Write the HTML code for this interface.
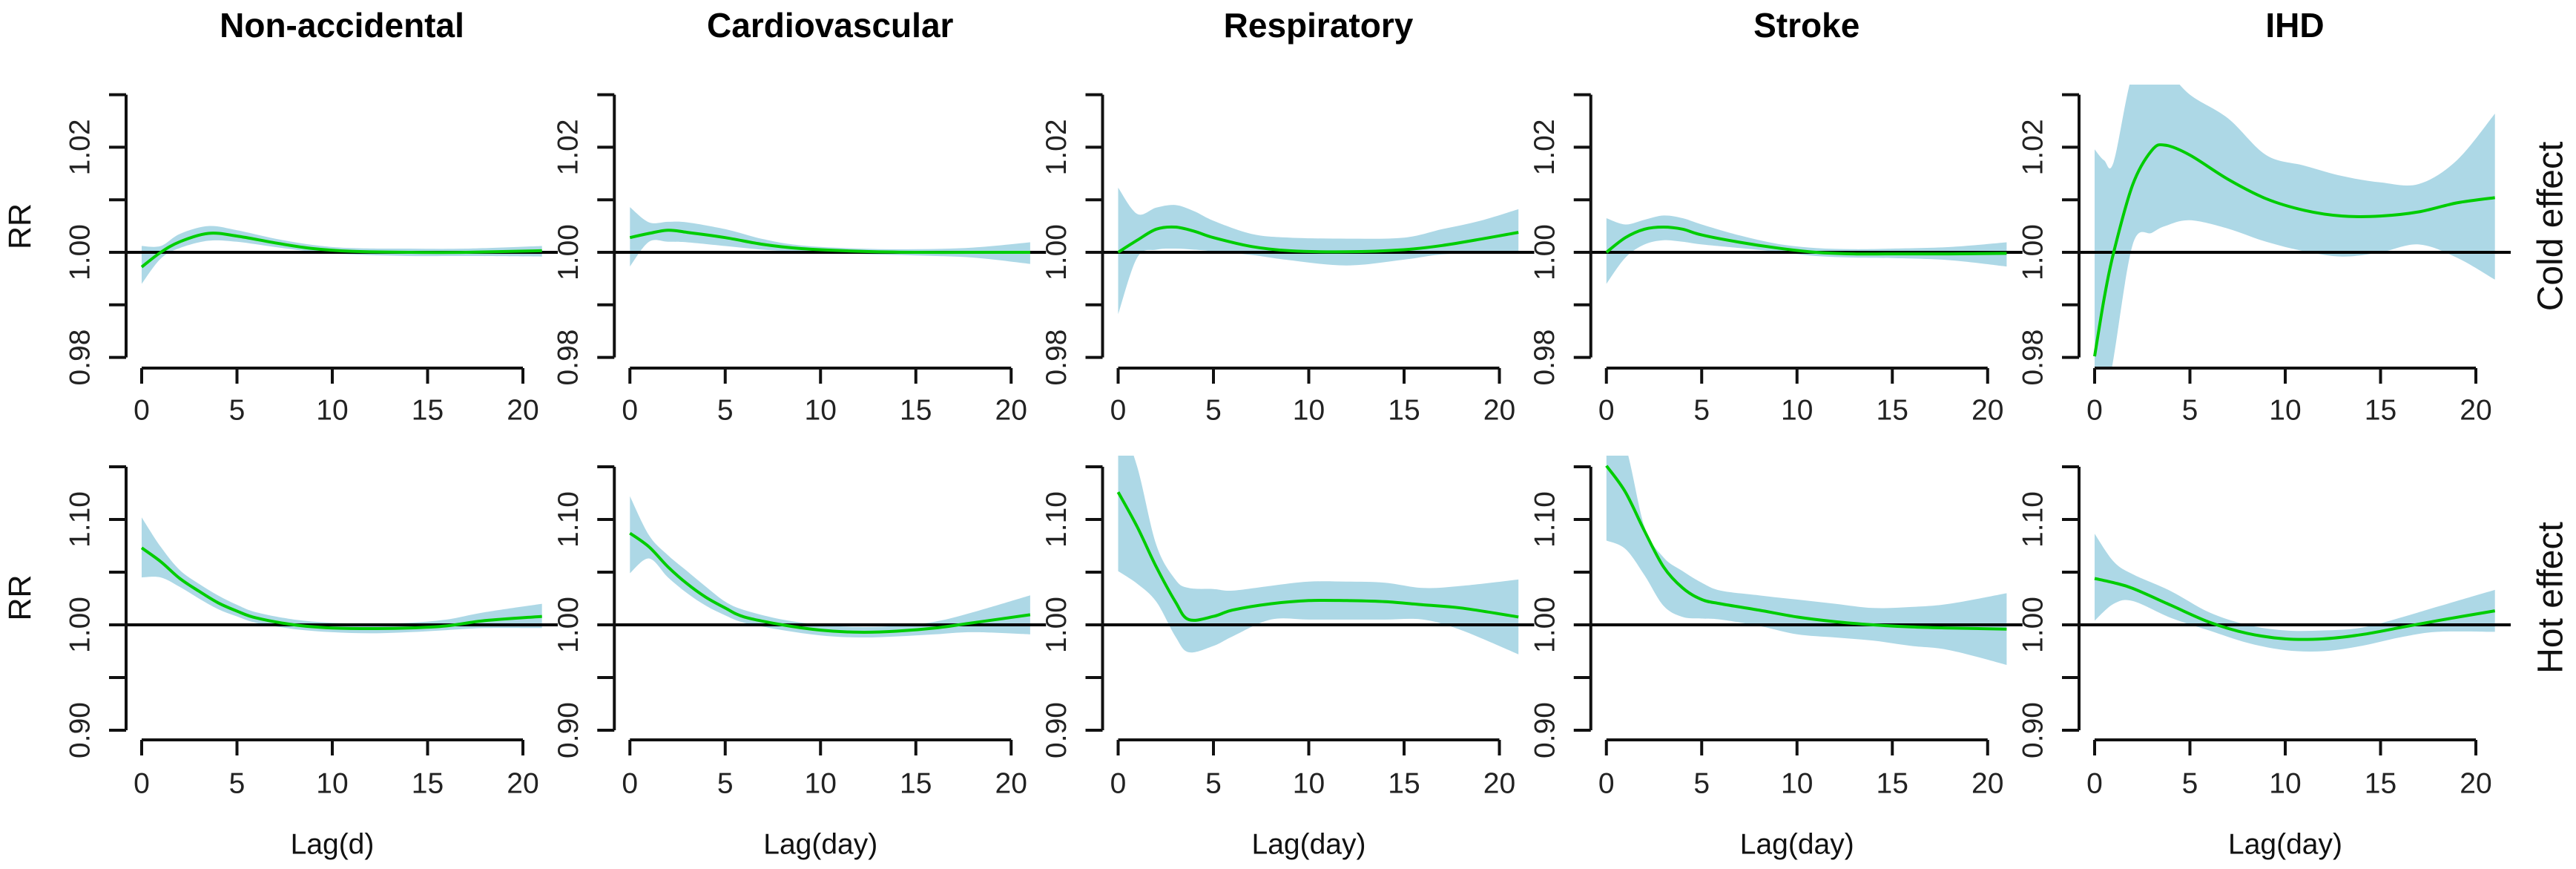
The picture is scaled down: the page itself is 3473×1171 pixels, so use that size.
<!DOCTYPE html>
<html><head><meta charset="utf-8">
<style>
html,body{margin:0;padding:0;background:#fff;}
svg{display:block;font-family:"Liberation Sans",Arial,sans-serif;}
</style></head>
<body>
<svg id="chart" width="3473" height="1171" viewBox="0 0 3473 1171" xmlns="http://www.w3.org/2000/svg"></svg>
<script>
const causes = ["Non-accidental","Cardiovascular","Respiratory","Stroke","IHD"];
const xLabels = ["Lag(d)","Lag(day)","Lag(day)","Lag(day)","Lag(day)"];
const xTicks = [0,5,10,15,20];
const coldTicks = [0.98,0.99,1.00,1.01,1.02,1.03];
const coldTickLabels = ["0.98","","1.00","","1.02",""];
const hotTicks = [0.90,0.95,1.00,1.05,1.10,1.15];
const hotTickLabels = ["0.90","","1.00","","1.10",""];

// Cold effect (RR - 1) per cause
const coldLags = [
 [0,1,2,3.5,5,7,9,11,14,17,21],
 [0,1,2,3,5,7,9,12,15,18,21],
 [0,1,2,3,4,5,7,9,12,15,17,19,21],
 [0,1,2,3,4,5,7,9,11,13,15,18,21],
 [0,0.5,1,2,3,3.7,5,7,9,11,13,15,17,19,21]
];
const coldFit = [
 [-0.0028,0.0,0.002,0.0036,0.0031,0.0018,0.0007,0.0002,0.0,0.0,0.0003],
 [0.0028,0.0036,0.0042,0.0038,0.0028,0.0015,0.0007,0.0002,0.0,0.0,0.0],
 [0.0,0.0023,0.0044,0.0048,0.004,0.0028,0.0011,0.0003,0.0001,0.0005,0.0013,0.0025,0.0038],
 [0.0,0.0028,0.0044,0.0048,0.0044,0.0033,0.0019,0.0008,0.0,-0.0003,-0.0003,-0.0003,-0.0002],
 [-0.0198,-0.0088,0.0,0.0129,0.0194,0.0204,0.0185,0.0139,0.0102,0.008,0.0069,0.0069,0.0077,0.0094,0.0104]
];
const coldHi = [
 [0.0012,0.0012,0.0035,0.005,0.0042,0.0026,0.0014,0.0008,0.0007,0.0007,0.0012],
 [0.0086,0.0057,0.0058,0.0057,0.0044,0.0025,0.0013,0.0007,0.0006,0.0009,0.0019],
 [0.0123,0.0073,0.0085,0.009,0.0078,0.006,0.0035,0.0028,0.0026,0.0028,0.0044,0.006,0.0082],
 [0.0065,0.0053,0.0062,0.007,0.0065,0.0053,0.0032,0.0016,0.0008,0.0006,0.0007,0.001,0.0019],
 [0.0196,0.0175,0.0172,0.034,0.036,0.035,0.03,0.0255,0.0185,0.0165,0.0145,0.0133,0.013,0.0175,0.0264]
];
const coldLo = [
 [-0.006,-0.0012,0.0008,0.0022,0.002,0.001,0.0001,-0.0004,-0.0007,-0.0007,-0.0008],
 [-0.0027,0.002,0.002,0.0019,0.0012,0.0005,0.0001,-0.0003,-0.0006,-0.001,-0.0022],
 [-0.0118,-0.001,0.0005,0.0007,0.0005,0.0002,-0.0005,-0.0015,-0.0025,-0.0014,-0.0004,-0.0002,0.0],
 [-0.006,-0.001,0.0015,0.0023,0.002,0.0015,0.0008,0.0001,-0.0007,-0.001,-0.0011,-0.0015,-0.0027],
 [-0.035,-0.03,-0.02,0.0015,0.0037,0.005,0.0061,0.0045,0.002,0.0002,-0.0008,0.0,0.0015,-0.001,-0.0052]
];

// Hot effect (RR - 1) per cause
const hotLags = [
 [0,1,2,3,4,5,6,8,10,12,14,16,18,21],
 [0,1,2,3,4,5,6,8,10,12,14,16,18,21],
 [0,1,2,3,3.7,5,6,8,10,12,14,16,18,21],
 [0,1,2,3,4,5,6,8,10,12,14,16,18,21],
 [0,1,2,4,6,8,10,12,14,16,18,21]
];
const hotFit = [
 [0.073,0.06,0.044,0.032,0.021,0.013,0.0066,0.0,-0.003,-0.0035,-0.003,-0.001,0.004,0.008],
 [0.087,0.074,0.055,0.039,0.026,0.016,0.0075,0.0,-0.005,-0.007,-0.006,-0.003,0.002,0.0096],
 [0.126,0.093,0.055,0.022,0.005,0.008,0.014,0.02,0.023,0.023,0.022,0.019,0.016,0.0075],
 [0.151,0.126,0.089,0.055,0.035,0.024,0.02,0.014,0.0075,0.003,0.0,-0.002,-0.003,-0.004],
 [0.044,0.04,0.0346,0.0186,0.0027,-0.008,-0.0133,-0.0133,-0.0093,-0.0027,0.004,0.0133]
];
const hotHi = [
 [0.102,0.074,0.052,0.039,0.028,0.019,0.012,0.005,0.002,0.0015,0.002,0.005,0.012,0.02],
 [0.122,0.085,0.066,0.051,0.036,0.022,0.014,0.005,0.0,-0.002,-0.001,0.003,0.012,0.028],
 [0.2,0.15,0.076,0.043,0.035,0.034,0.0325,0.037,0.041,0.041,0.04,0.035,0.037,0.043],
 [0.2,0.17,0.093,0.064,0.051,0.04,0.0325,0.028,0.024,0.02,0.016,0.017,0.02,0.03],
 [0.0864,0.06,0.048,0.032,0.012,0.0,-0.0053,-0.0053,-0.0027,0.0066,0.0173,0.0332]
];
const hotLo = [
 [0.045,0.045,0.036,0.025,0.015,0.008,0.002,-0.004,-0.007,-0.008,-0.007,-0.005,-0.003,-0.003],
 [0.049,0.063,0.045,0.03,0.018,0.009,0.002,-0.005,-0.01,-0.012,-0.011,-0.009,-0.007,-0.009],
 [0.051,0.039,0.022,-0.011,-0.026,-0.02,-0.011,0.005,0.005,0.005,0.005,0.005,-0.005,-0.028],
 [0.08,0.072,0.047,0.018,0.0075,0.006,0.005,-0.001,-0.009,-0.012,-0.015,-0.02,-0.024,-0.038],
 [0.004,0.02,0.0226,0.0066,-0.0053,-0.017,-0.024,-0.025,-0.02,-0.012,-0.0066,-0.0066]
];

const svg = document.getElementById('chart');
const NS = 'http://www.w3.org/2000/svg';
function mk(tag, attrs, parent){
  const e = document.createElementNS(NS, tag);
  for (const k in attrs) e.setAttribute(k, attrs[k]);
  (parent||svg).appendChild(e);
  return e;
}
function smoothPath(pts){
  let d = 'M' + pts[0][0].toFixed(1) + ',' + pts[0][1].toFixed(1);
  for (let i = 0; i < pts.length - 1; i++){
    const p0 = pts[i-1] || pts[i], p1 = pts[i], p2 = pts[i+1], p3 = pts[i+2] || p2;
    const c1x = p1[0] + (p2[0]-p0[0])/6, c1y = p1[1] + (p2[1]-p0[1])/6;
    const c2x = p2[0] - (p3[0]-p1[0])/6, c2y = p2[1] - (p3[1]-p1[1])/6;
    d += ' C' + c1x.toFixed(1)+','+c1y.toFixed(1)+' '+c2x.toFixed(1)+','+c2y.toFixed(1)+' '+p2[0].toFixed(1)+','+p2[1].toFixed(1);
  }
  return d;
}
function curveCmds(pts){ return smoothPath(pts).replace(/^M[^C]*/, ''); }

const PX_PER_LAG = 25.7;
const rows = [
  {key:'cold', zeroY:340, perUnit:7080, top:114, bottom:496, ticks:coldTicks, labels:coldTickLabels,
   lags:coldLags, fit:coldFit, hi:coldHi, lo:coldLo, side:'Cold effect', tickLabelY:553},
  {key:'hot', zeroY:842, perUnit:1420, top:614, bottom:997, ticks:hotTicks, labels:hotTickLabels,
   lags:hotLags, fit:hotFit, hi:hotHi, lo:hotLo, side:'Hot effect', tickLabelY:1056}
];

const defs = mk('defs', {});
causes.forEach((cause, c) => {
  const X0 = 191 + 658.25*c;
  const xs = lag => X0 + lag*PX_PER_LAG;
  const axisX = X0 - 21;
  const rightX = X0 + 561;

  const title = mk('text', {x: X0+270, y: 50, 'text-anchor':'middle', 'font-size':46, 'font-weight':'bold', fill:'#000'});
  title.textContent = cause;
  
  

  rows.forEach((r, ri) => {
    const ys = v => r.zeroY - v*r.perUnit;     // v = RR - 1
    const g = mk('g', {});
    
    

    const clipId = 'clip' + c + '_' + ri;
    const cp = mk('clipPath', {id: clipId}, defs);
    mk('rect', {x: axisX, y: r.top, width: rightX-axisX, height: r.bottom-r.top}, cp);

    // ribbon
    const L = r.lags[c];
    const hiPts = L.map((l,i) => [xs(l), ys(r.hi[c][i])]);
    const loPts = L.map((l,i) => [xs(l), ys(r.lo[c][i])]).reverse();
    const d = smoothPath(hiPts) + ' L' + loPts[0][0].toFixed(1)+','+loPts[0][1].toFixed(1) + curveCmds(loPts) + ' Z';
    const rib = mk('path', {d: d, fill:'#add8e6', stroke:'none', 'clip-path':'url(#'+clipId+')'}, g);
    
    

    // reference line at RR=1
    const ref = mk('line', {x1: axisX, x2: rightX, y1: ys(0), y2: ys(0), stroke:'#000', 'stroke-width':4}, g);
    
    

    // fitted curve
    const fitPts = L.map((l,i) => [xs(l), ys(r.fit[c][i])]);
    const fl = mk('path', {d: smoothPath(fitPts), fill:'none', stroke:'#00cc00', 'stroke-width':4, 'clip-path':'url(#'+clipId+')'}, g);
    
    

    // y axis
    const yTop = ys(r.ticks[r.ticks.length-1]-1), yBot = ys(r.ticks[0]-1);
    const ya = mk('line', {x1: axisX, x2: axisX, y1: yBot, y2: yTop, stroke:'#111', 'stroke-width':4}, g);
    
    
    r.ticks.forEach((t, ti) => {
      const y = ys(t-1);
      mk('line', {x1: axisX-23, x2: axisX, y1: y, y2: y, stroke:'#111', 'stroke-width':4}, g);
      if (r.labels[ti]){
        const tx = axisX - 62;
        const tl = mk('text', {x: tx, y: y, transform:'rotate(-90 '+tx+' '+y+')', 'text-anchor':'middle', 'dominant-baseline':'central', 'font-size':39, fill:'#222'}, g);
        tl.textContent = r.labels[ti];
        
        
      }
    });

    // x axis
    const xa = mk('line', {x1: xs(xTicks[0]), x2: xs(xTicks[xTicks.length-1]), y1: r.bottom, y2: r.bottom, stroke:'#111', 'stroke-width':4}, g);
    
    
    xTicks.forEach(t => {
      mk('line', {x1: xs(t), x2: xs(t), y1: r.bottom, y2: r.bottom+21, stroke:'#111', 'stroke-width':4}, g);
      const tl = mk('text', {x: xs(t), y: r.tickLabelY, 'text-anchor':'middle', 'dominant-baseline':'central', 'font-size':39, fill:'#222'}, g);
      tl.textContent = t;
      
      
    });

    if (c === 0){
      const cy = (r.top + r.bottom)/2;
      const rr = mk('text', {x: 27, y: cy, transform:'rotate(-90 27 '+cy+')', 'text-anchor':'middle', 'dominant-baseline':'central', 'font-size':43, fill:'#111'});
      rr.textContent = 'RR';
      
      
    }
    if (c === causes.length-1){
      const cy = (r.top + r.bottom)/2;
      const st = mk('text', {x: 3439, y: cy, transform:'rotate(-90 3439 '+cy+')', 'text-anchor':'middle', 'dominant-baseline':'central', 'font-size':48, fill:'#111'});
      st.textContent = r.side;
      
      
    }
  });

  const xl = mk('text', {x: X0+257, y: 1138, 'text-anchor':'middle', 'dominant-baseline':'central', 'font-size':39, fill:'#111'});
  xl.textContent = xLabels[c];
  
  
});
</script>
</body></html>
